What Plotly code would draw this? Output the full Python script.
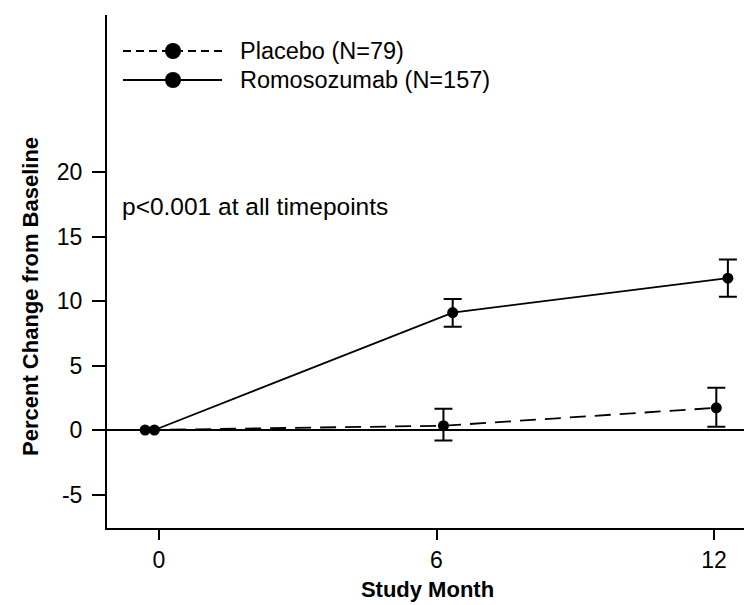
import plotly.graph_objects as go

# ---- data ----
placebo_months = [-0.3, 6.15, 12.05]
placebo_mean = [0.0, 0.33, 1.72]
placebo_err_up = [None, 1.31, 1.56]
placebo_err_down = [None, 1.15, 1.47]

romo_months = [-0.1, 6.35, 12.3]
romo_mean = [0.0, 9.1, 11.77]
romo_err_up = [None, 1.05, 1.45]
romo_err_down = [None, 1.1, 1.45]

x_ticks = [0, 6, 12]
y_ticks = [-5, 0, 5, 10, 15, 20]
y_tick_labels = ["-5", "0", "5", "10", "15", "20"]
legend_labels = ["Placebo (N=79)", "Romosozumab (N=157)"]
note_text = "p<0.001 at all timepoints"
x_title = "Study Month"
y_title = "Percent Change from Baseline"

# page body has an 8px default margin; compensate so the picture lines up
OFF = 8
W, H = 752 - OFF, 605 - OFF
# plot area in window pixels: x 107..748, y 15..528
ML, MT = 107 - OFF, 15 - OFF
MR = W - (748 - OFF)
MB = H - (528 - OFF)
PW, PH = W - ML - MR, H - MT - MB

BASE = "Liberation Sans, Arial, Helvetica, sans-serif"

fig = go.Figure()
fig.add_trace(go.Scatter(
    x=placebo_months, y=placebo_mean, mode="lines+markers",
    line=dict(color="black", width=1.8, dash="16px,9px"),
    marker=dict(color="black", size=11),
    error_y=dict(type="data", symmetric=False, array=placebo_err_up,
                 arrayminus=placebo_err_down, color="black", thickness=2, width=9),
    showlegend=False, name=legend_labels[0]))
fig.add_trace(go.Scatter(
    x=romo_months, y=romo_mean, mode="lines+markers",
    line=dict(color="black", width=1.8),
    marker=dict(color="black", size=11),
    error_y=dict(type="data", symmetric=False, array=romo_err_up,
                 arrayminus=romo_err_down, color="black", thickness=2, width=9),
    showlegend=False, name=legend_labels[1]))

# helpers: window pixel -> paper fraction
def px_x(p):
    return (p - OFF - ML) / PW

def px_y(p):
    return (H - MB - (p - OFF)) / PH

shapes = []
annotations = []
for lab, dash, yp in [(legend_labels[0], "8px,5px", 51),
                      (legend_labels[1], "solid", 80)]:
    shapes.append(dict(type="line", xref="paper", yref="paper",
                       x0=px_x(123), x1=px_x(222), y0=px_y(yp), y1=px_y(yp),
                       line=dict(color="black", width=1.8, dash=dash)))
    shapes.append(dict(type="circle", xref="paper", yref="paper",
                       xsizemode="pixel", ysizemode="pixel",
                       xanchor=px_x(173), yanchor=px_y(yp),
                       x0=-8, x1=8, y0=-8, y1=8,
                       fillcolor="black", line=dict(color="black", width=0)))
    annotations.append(dict(text=lab, xref="paper", yref="paper",
                            x=px_x(238), y=px_y(yp), xanchor="left", yanchor="middle",
                            showarrow=False, font=dict(family=BASE, size=23.5, color="black")))

annotations.append(dict(text=note_text, xref="paper", yref="paper",
                        x=px_x(120), y=px_y(206), xanchor="left", yanchor="middle",
                        showarrow=False, font=dict(family=BASE, size=24.5, color="black")))

annotations.append(dict(text="<b>" + y_title + "</b>", xref="paper", yref="paper",
                        x=px_x(30), y=px_y(297), xanchor="center", yanchor="middle",
                        textangle=-90, showarrow=False,
                        font=dict(family=BASE, size=22, color="black")))

# axis scales: x 0 at window px 159, 46.25 px per month; y 0 at window px 430, 12.9 px per unit
x0_px, x_scale = 159, 46.25
y0_px, y_scale = 430, 12.9
x_range = [(107 - x0_px) / x_scale, (748 - x0_px) / x_scale]
y_range = [-(528 - y0_px) / y_scale, (y0_px - 15) / y_scale]

fig.update_layout(
    width=W, height=H,
    margin=dict(l=ML, r=MR, t=MT, b=MB),
    paper_bgcolor="white", plot_bgcolor="white",
    shapes=shapes, annotations=annotations,
    xaxis=dict(range=x_range,
               tickvals=x_ticks, ticks="outside", ticklen=10, tickwidth=2,
               tickcolor="black", showline=True, linecolor="black", linewidth=2,
               showgrid=False, zeroline=False, automargin=False,
               tickfont=dict(family=BASE, size=23, color="black"),
               title=dict(text="<b>" + x_title + "</b>", standoff=10,
                          font=dict(family=BASE, size=22, color="black"))),
    yaxis=dict(range=y_range,
               tickvals=y_ticks, ticktext=y_tick_labels, ticks="outside",
               ticklen=13, tickwidth=2, ticklabelstandoff=5,
               tickcolor="black", showline=True, linecolor="black", linewidth=2,
               showgrid=False, zeroline=True, zerolinecolor="black", zerolinewidth=1.8,
               automargin=False,
               tickfont=dict(family=BASE, size=23, color="black")),
)

fig.write_html("out.html")
